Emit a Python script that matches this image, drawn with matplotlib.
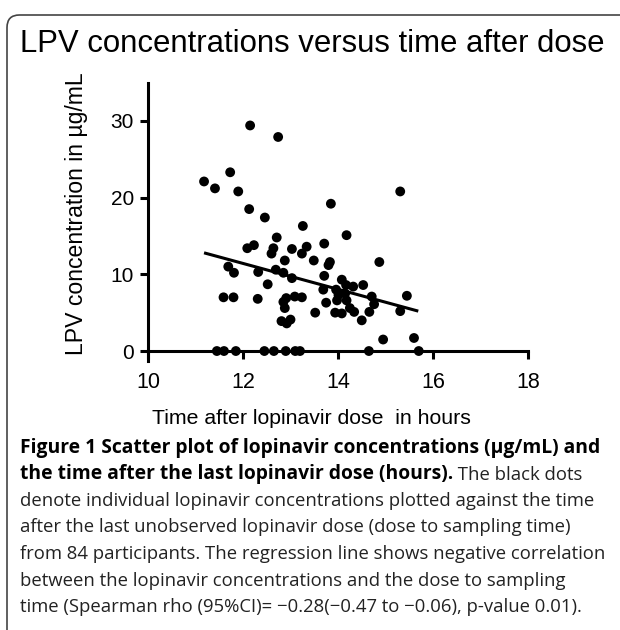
import numpy as np
import matplotlib
matplotlib.use('Agg')
import matplotlib.pyplot as plt
import matplotlib.patches as mpatches

# time after dose (hours) and LPV concentration (ug/mL)
time_h = [12.15, 12.74, 11.73, 11.18, 11.41, 11.90, 12.13, 12.46, 12.71, 15.31,
          13.85, 13.26, 14.18, 12.09, 12.23, 12.64, 12.60, 13.03, 13.34, 13.24,
          13.71, 12.88, 13.49, 13.83, 14.87, 13.80, 11.69, 11.81, 12.32, 12.69,
          12.85, 12.52, 13.03, 13.71, 14.08, 14.17, 14.53, 14.32, 13.69, 13.96,
          14.01, 13.98, 14.15, 14.18, 14.71, 14.76, 15.45, 11.59, 11.80, 12.31,
          12.91, 13.09, 13.24, 12.85, 12.88, 13.75, 13.52, 13.94, 14.08, 14.25,
          14.34, 14.66, 15.31, 14.50, 12.81, 12.92, 13.00, 14.95, 15.60,
          11.45, 11.60, 11.85, 12.45, 12.65, 12.90, 13.10, 13.20, 14.65, 15.70]
conc = [29.4, 27.9, 23.3, 22.1, 21.2, 20.8, 18.5, 17.4, 14.8, 20.8,
        19.2, 16.3, 15.1, 13.4, 13.8, 13.4, 12.7, 13.3, 13.6, 12.7,
        14.0, 11.8, 11.8, 11.6, 11.6, 11.2, 11.0, 10.2, 10.3, 10.6,
        10.2, 8.7, 9.5, 9.8, 9.3, 8.6, 8.6, 8.4, 8.0, 8.0,
        7.3, 6.6, 7.5, 6.6, 7.1, 6.1, 7.2, 7.0, 7.0, 6.8,
        6.9, 7.1, 7.0, 6.4, 5.6, 6.3, 5.0, 5.0, 4.9, 5.6,
        5.1, 5.1, 5.2, 4.0, 3.9, 3.6, 4.1, 1.5, 1.7,
        0, 0, 0, 0, 0, 0, 0, 0, 0, 0]

# regression line end points
fit_t = [11.18, 15.69]
fit_c = [12.8, 5.2]

x_ticks = [10, 12, 14, 16, 18]
y_ticks = [0, 10, 20, 30]

caption = [
    [('Figure 1 Scatter plot of lopinavir concentrations (µg/mL) and', 'bold')],
    [('the time after the last lopinavir dose (hours).', 'bold'), (' The black dots', 'normal')],
    [('denote individual lopinavir concentrations plotted against the time', 'normal')],
    [('after the last unobserved lopinavir dose (dose to sampling time)', 'normal')],
    [('from 84 participants. The regression line shows negative correlation', 'normal')],
    [('between the lopinavir concentrations and the dose to sampling', 'normal')],
    [('time (Spearman rho (95%CI)= \u22120.28(\u22120.47 to \u22120.06), p-value 0.01).', 'normal')],
]

W, H = 620, 630
fig = plt.figure(figsize=(W / 100, H / 100), dpi=100)
plt.rcParams['font.family'] = ['Liberation Sans', 'DejaVu Sans']

# rounded frame running off the right and bottom edges
frame = mpatches.FancyBboxPatch((7 / W, -0.2), 1.3, 0.2 + (H - 15) / H,
                                boxstyle='round,pad=0,rounding_size=0.02',
                                transform=fig.transFigure, fill=False,
                                edgecolor='#444444', linewidth=1.2)
fig.patches.append(frame)

ax = fig.add_axes([148 / W, 1 - 361 / H, 380 / W, 278.5 / H])
ax.scatter(time_h, conc, s=50, color='black', edgecolors='none', zorder=3, clip_on=False)
ax.plot(fit_t, fit_c, color='black', linewidth=2.2, solid_capstyle='butt', zorder=2)

ax.set_xlim(10, 18)
ax.set_ylim(-1.3, 35)
ax.set_xticks(x_ticks)
ax.set_yticks(y_ticks)
ax.spines['top'].set_visible(False)
ax.spines['right'].set_visible(False)
ax.spines['bottom'].set_position(('data', 0))
for sp in ['left', 'bottom']:
    ax.spines[sp].set_linewidth(2.2)
    ax.spines[sp].set_capstyle('projecting')
ax.tick_params(direction='out', length=6, width=2.2)
ax.tick_params(axis='x', pad=9, labelsize=15.5)
ax.tick_params(axis='y', pad=4, labelsize=15)

ax.set_xlabel('Time after lopinavir dose  in hours', fontsize=15.3, va='center')
ax.xaxis.set_label_coords((311 - 148) / 380, (361 - 419) / 278.5)
ax.set_ylabel('LPV concentration in µg/mL', fontsize=16.6, va='center', ha='center')
ax.yaxis.set_label_coords((77 - 148) / 380, (361 - 214) / 278.5)

fig.text(312 / W, 1 - 52 / H, 'LPV concentrations versus time after dose',
         fontsize=22.4, ha='center', va='baseline')

# caption, bold lead sentence then regular text
renderer = fig.canvas.get_renderer()
y0 = 453
for i, parts in enumerate(caption):
    x = 20 / W
    y = 1 - (y0 + i * 26.5) / H
    for txt, weight in parts:
        bold = weight == 'bold'
        t = fig.text(x, y, txt, fontsize=13.85 if bold else 13.35, fontweight=weight,
                     family=['Open Sans', 'DejaVu Sans'],
                     color='black' if bold else '#222222',
                     va='baseline', ha='left')
        bb = t.get_window_extent(renderer)
        x = bb.x1 / W

fig.savefig('out.png', dpi=100)
